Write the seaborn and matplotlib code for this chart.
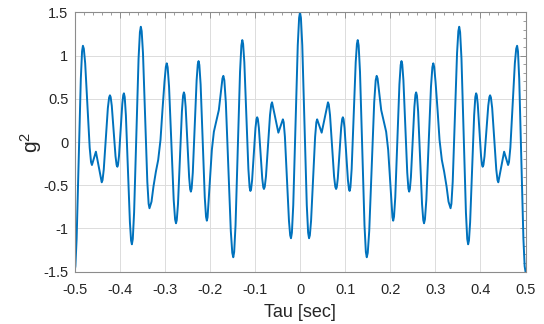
import matplotlib
matplotlib.use("Agg")
import matplotlib.pyplot as plt
import seaborn as sns
import pandas as pd
from matplotlib.ticker import MultipleLocator

# ---- data (curve g^2 vs tau) ----
tau_left = [
    -0.500, -0.4981, -0.49535, -0.4907, -0.48605, -0.4833, -0.4814, -0.4794,
    -0.4764, -0.4714, -0.4664, -0.4634, -0.4614, -0.457, -0.4526, -0.4462,
    -0.4397, -0.4379, -0.4352, -0.4306, -0.4261, -0.4233, -0.4215, -0.4199,
    -0.4174, -0.4133, -0.4091, -0.4067, -0.405, -0.4036, -0.4014, -0.3978,
    -0.3941, -0.3920, -0.3905, -0.3887, -0.3861, -0.3817, -0.3772, -0.3746,
    -0.3728, -0.3708, -0.3679, -0.3629, -0.358, -0.355, -0.353, -0.3511,
    -0.3482, -0.3434, -0.3386, -0.3357, -0.3338, -0.3293, -0.325, -0.3196,
    -0.3145, -0.3094, -0.305, -0.3005, -0.2975, -0.2955, -0.2935, -0.2904,
    -0.2853, -0.2801, -0.277, -0.275, -0.2733, -0.2706, -0.2663, -0.2619,
    -0.2593, -0.2575, -0.2559, -0.2536, -0.2498, -0.2459, -0.2436, -0.242,
    -0.2403, -0.23775, -0.2335, -0.22925, -0.2267, -0.225, -0.2232, -0.2204,
    -0.2158, -0.2112, -0.2084, -0.2066, -0.205, -0.203, -0.1992, -0.1955,
    -0.191, -0.186, -0.180, -0.1749, -0.172, -0.170, -0.1678, -0.1645,
    -0.159, -0.1535, -0.1502, -0.148, -0.146, -0.143, -0.138, -0.133,
    -0.130, -0.128, -0.1262, -0.1235, -0.119, -0.1145, -0.1118, -0.110,
    -0.1085, -0.10625, -0.1025, -0.09875, -0.0965, -0.095, -0.0935, -0.09125,
    -0.0875, -0.08375, -0.0815, -0.080, -0.0782, -0.0755, -0.071, -0.0665,
    -0.0638, -0.062, -0.055, -0.048, -0.043, -0.038, -0.0362, -0.0335,
    -0.029, -0.0245, -0.0218, -0.020, -0.018, -0.015, -0.010, -0.005,
    -0.002,
]
g2_left = [
    -1.500, -1.436, -1.118, -0.194, 0.731, 1.049, 1.113, 1.079,
    0.912, 0.424, -0.065, -0.232, -0.266, -0.189, -0.112, -0.289,
    -0.466, -0.441, -0.319, 0.037, 0.393, 0.515, 0.540, 0.520,
    0.419, 0.127, -0.165, -0.266, -0.286, -0.265, -0.161, 0.139,
    0.439, 0.542, 0.563, 0.520, 0.308, -0.310, -0.928, -1.140,
    -1.183, -1.121, -0.816, 0.075, 0.966, 1.271, 1.333, 1.282,
    1.027, 0.284, -0.460, -0.715, -0.766, -0.690, -0.516, -0.343,
    -0.208, 0.023, 0.370, 0.697, 0.870, 0.910, 0.865, 0.640,
    -0.015, -0.670, -0.895, -0.940, -0.903, -0.719, -0.183, 0.353,
    0.537, 0.574, 0.546, 0.406, 0.000, -0.406, -0.546, -0.574,
    -0.537, -0.353, 0.181, 0.716, 0.899, 0.936, 0.891, 0.666,
    0.013, -0.640, -0.865, -0.910, -0.870, -0.709, -0.401, -0.092,
    0.119, 0.235, 0.370, 0.601, 0.735, 0.765, 0.714, 0.459,
    -0.284, -1.027, -1.282, -1.333, -1.272, -0.966, -0.077, 0.812,
    1.118, 1.179, 1.136, 0.924, 0.307, -0.311, -0.523, -0.566,
    -0.545, -0.442, -0.140, 0.162, 0.265, 0.286, 0.266, 0.165,
    -0.129, -0.422, -0.523, -0.543, -0.518, -0.397, -0.042, 0.313,
    0.434, 0.459, 0.284, 0.108, 0.185, 0.262, 0.228, 0.061,
    -0.426, -0.912, -1.079, -1.113, -1.049, -0.731, 0.194, 1.119,
    1.436,
]
tau_right = [
    0.000, 0.002, 0.005, 0.010, 0.015, 0.018, 0.020, 0.0218,
    0.0245, 0.029, 0.0335, 0.0362, 0.038, 0.043, 0.048, 0.055,
    0.062, 0.0638, 0.0665, 0.071, 0.0755, 0.0782, 0.080, 0.0815,
    0.08375, 0.0875, 0.09125, 0.0935, 0.095, 0.0965, 0.09875, 0.1025,
    0.10625, 0.1085, 0.110, 0.1118, 0.1145, 0.119, 0.1235, 0.1262,
    0.128, 0.130, 0.133, 0.138, 0.143, 0.146, 0.148, 0.1502,
    0.1535, 0.159, 0.1645, 0.1678, 0.170, 0.172, 0.1749, 0.180,
    0.186, 0.191, 0.1955, 0.1992, 0.203, 0.205, 0.2066, 0.2084,
    0.2112, 0.2158, 0.2204, 0.2232, 0.225, 0.2267, 0.22925, 0.2335,
    0.23775, 0.2403, 0.242, 0.2436, 0.2459, 0.2498, 0.2536, 0.2559,
    0.2575, 0.2593, 0.2619, 0.2663, 0.2706, 0.2733, 0.275, 0.277,
    0.2801, 0.2853, 0.2904, 0.2935, 0.2955, 0.2975, 0.3005, 0.305,
    0.3094, 0.3145, 0.3196, 0.325, 0.3293, 0.3338, 0.3357, 0.3386,
    0.3434, 0.3482, 0.3511, 0.353, 0.355, 0.358, 0.3629, 0.3679,
    0.3708, 0.3728, 0.3746, 0.3772, 0.3817, 0.3861, 0.3887, 0.3905,
    0.3920, 0.3941, 0.3978, 0.4014, 0.4036, 0.405, 0.4067, 0.4091,
    0.4133, 0.4174, 0.4199, 0.4215, 0.4233, 0.4261, 0.4306, 0.4352,
    0.4379, 0.4397, 0.4462, 0.4526, 0.457, 0.4614, 0.4634, 0.4664,
    0.4714, 0.4764, 0.4794, 0.4814, 0.4833, 0.48605, 0.4907, 0.49535,
    0.4981, 0.500,
]
g2_right = [
    1.500, 1.436, 1.119, 0.194, -0.731, -1.049, -1.113, -1.079,
    -0.912, -0.426, 0.061, 0.228, 0.262, 0.185, 0.108, 0.284,
    0.459, 0.434, 0.313, -0.042, -0.397, -0.518, -0.543, -0.523,
    -0.422, -0.129, 0.165, 0.266, 0.286, 0.265, 0.162, -0.140,
    -0.442, -0.545, -0.566, -0.523, -0.311, 0.307, 0.924, 1.136,
    1.179, 1.118, 0.812, -0.077, -0.966, -1.272, -1.333, -1.282,
    -1.027, -0.284, 0.459, 0.714, 0.765, 0.735, 0.601, 0.370,
    0.235, 0.119, -0.092, -0.401, -0.709, -0.870, -0.910, -0.865,
    -0.640, 0.013, 0.666, 0.891, 0.936, 0.899, 0.716, 0.181,
    -0.353, -0.537, -0.574, -0.546, -0.406, 0.000, 0.406, 0.546,
    0.574, 0.537, 0.353, -0.183, -0.719, -0.903, -0.940, -0.895,
    -0.670, -0.015, 0.640, 0.865, 0.910, 0.870, 0.697, 0.370,
    0.023, -0.208, -0.343, -0.516, -0.690, -0.766, -0.715, -0.460,
    0.284, 1.027, 1.282, 1.333, 1.271, 0.966, 0.075, -0.816,
    -1.121, -1.183, -1.140, -0.928, -0.310, 0.308, 0.520, 0.563,
    0.542, 0.439, 0.139, -0.161, -0.265, -0.286, -0.266, -0.165,
    0.127, 0.419, 0.520, 0.540, 0.515, 0.393, 0.037, -0.319,
    -0.441, -0.466, -0.289, -0.112, -0.189, -0.266, -0.232, -0.065,
    0.424, 0.912, 1.079, 1.113, 1.049, 0.731, -0.194, -1.118,
    -1.436, -1.500,
]

x_ticks = [-0.5, -0.4, -0.3, -0.2, -0.1, 0.0, 0.1, 0.2, 0.3, 0.4, 0.5]
x_ticklabels = ["-0.5", "-0.4", "-0.3", "-0.2", "-0.1", "0", "0.1", "0.2", "0.3", "0.4", "0.5"]
y_ticks = [-1.5, -1.0, -0.5, 0.0, 0.5, 1.0, 1.5]
y_ticklabels = ["-1.5", "-1", "-0.5", "0", "0.5", "1", "1.5"]

df = pd.DataFrame({"tau": tau_left + tau_right, "g2": g2_left + g2_right})

# ---- style ----
sns.set_theme(style="white")
plt.rcParams["font.family"] = ["Liberation Sans", "DejaVu Sans"]
plt.rcParams["mathtext.fontset"] = "custom"
plt.rcParams["mathtext.rm"] = "Liberation Sans"
plt.rcParams["mathtext.it"] = "Liberation Sans:italic"

fig = plt.figure(figsize=(5.44, 3.24), dpi=100)
fig.patch.set_facecolor("white")
ax = fig.add_axes([0.137, 0.1614, 0.829, 0.8006])

sns.lineplot(data=df, x="tau", y="g2", ax=ax, color="#0072BD",
             linewidth=1.4, sort=False, estimator=None)

ax.set_xlim(-0.5, 0.5)
ax.set_ylim(-1.5, 1.5)
ax.set_xticks(x_ticks)
ax.set_xticklabels(x_ticklabels)
ax.set_yticks(y_ticks)
ax.set_yticklabels(y_ticklabels)
ax.xaxis.set_minor_locator(MultipleLocator(0.02))
ax.yaxis.set_minor_locator(MultipleLocator(0.1))

ax.grid(True, which="major", color="#dcdcdc", linewidth=0.7)
ax.set_axisbelow(True)

for sp in ax.spines.values():
    sp.set_visible(True)
    sp.set_color("#8c8c8c")
    sp.set_linewidth(0.8)

ax.tick_params(which="both", direction="in", top=True, right=True,
               color="#8c8c8c", labelcolor="#262626")
ax.tick_params(which="major", length=4, width=0.7, labelsize=10.5)
ax.tick_params(axis="x", which="major", pad=8)
ax.tick_params(axis="y", which="major", pad=4.5)
ax.tick_params(which="minor", length=2.2, width=0.6)

ax.set_xlabel("Tau [sec]", fontsize=13, color="#262626")
ax.set_ylabel(r"$\mathrm{g}^2$", fontsize=15, color="#262626")
ax.xaxis.set_label_coords(0.5, -0.125)
ax.yaxis.set_label_coords(-0.068, 0.5)

fig.savefig("out.png", dpi=100, facecolor="white")
